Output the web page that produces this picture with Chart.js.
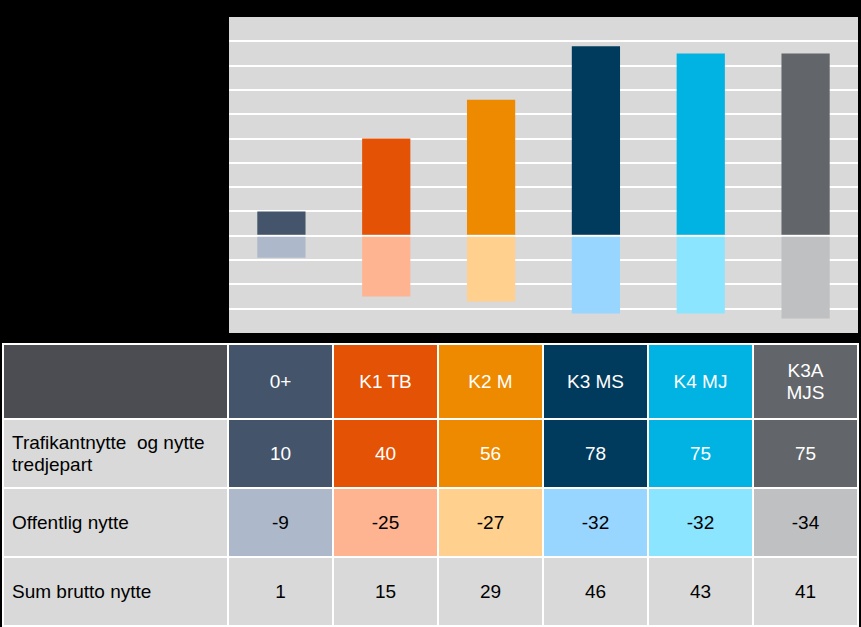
<!DOCTYPE html>
<html>
<head>
<meta charset="utf-8">
<script src="https://cdn.jsdelivr.net/npm/chart.js@4/dist/chart.umd.min.js"></script>
<style>
  html, body { margin: 0; padding: 0; background: #000; }
  body { width: 861px; height: 627px; position: relative; overflow: hidden; font-family: "Liberation Sans", Arial, sans-serif; }
  #plot { position: absolute; left: 229px; top: 17px; width: 629px; height: 316px; background: #d9d9d9; }
  #tbl { position: absolute; left: 2px; top: 343px; border-collapse: collapse; table-layout: fixed; }
  #tbl td { border: 2px solid #fff; padding: 0; text-align: center; font-size: 19px; line-height: 22px; white-space: pre; }
  #tbl tr.dark td { color: #fff; }
  #tbl tr.plain td { color: #000; }
  #tbl tr td.lbl { text-align: left; padding-left: 8px; background: #d9d9d9; color: #000; }
</style>
</head>
<body>
<div id="plot"><canvas id="chartArea"></canvas></div>
<table id="tbl"></table>
<script>
    // data
    const categories = ["0+", "K1 TB", "K2 M", "K3 MS", "K4 MJ", "K3A\nMJS"];
    const rowLabels = ["Trafikantnytte  og nytte\ntredjepart", "Offentlig nytte", "Sum brutto nytte"];
    const trafikantNytte = [10, 40, 56, 78, 75, 75];
    const offentligNytte = [-9, -25, -27, -32, -32, -34];
    const sumBruttoNytte = [1, 15, 29, 46, 43, 41];

    const darkColors = ["#44546a", "#e35205", "#ee8a00", "#003a5c", "#00b3e2", "#626569"];
    const lightColors = ["#adb9ca", "#ffb491", "#ffd08e", "#98d6ff", "#8ce5ff", "#bfc0c2"];

    // chart
    const canvas = document.getElementById("chartArea");
    new Chart(canvas, {
        type: "bar",
        data: {
            labels: categories,
            datasets: [
                { label: rowLabels[0], data: trafikantNytte, backgroundColor: darkColors },
                { label: rowLabels[1], data: offentligNytte, backgroundColor: lightColors }
            ]
        },
        options: {
            responsive: true,
            maintainAspectRatio: false,
            animation: false,
            layout: { padding: 0 },
            datasets: { bar: { barPercentage: 0.46, categoryPercentage: 1 } },
            plugins: { legend: { display: false }, tooltip: { enabled: false } },
            scales: {
                x: { stacked: true, display: false },
                y: {
                    stacked: true,
                    min: -40,
                    max: 90,
                    ticks: { display: false, stepSize: 10 },
                    border: { display: false },
                    grid: {
                        drawTicks: false,
                        lineWidth: 2,
                        color: ctx => (ctx.tick && (ctx.tick.value === -40 || ctx.tick.value === 90)) ? "rgba(0,0,0,0)" : "#ffffff"
                    },
                    afterFit: s => { s.width = 0; }
                }
            }
        }
    });

    // table
    const tbl = document.getElementById("tbl");
    let html = '<colgroup><col style="width:225px">' + categories.map(() => '<col style="width:105px">').join("") + '</colgroup>';
    html += '<tr class="dark" style="height:75px"><td style="background:#4b4d52"></td>' +
        categories.map((c, i) => '<td style="background:' + darkColors[i] + '">' + c + '</td>').join("") + '</tr>';
    html += '<tr class="dark" style="height:69px"><td class="lbl">' + rowLabels[0] + '</td>' +
        trafikantNytte.map((v, i) => '<td style="background:' + darkColors[i] + '">' + v + '</td>').join("") + '</tr>';
    html += '<tr class="plain" style="height:69px"><td class="lbl">' + rowLabels[1] + '</td>' +
        offentligNytte.map((v, i) => '<td style="background:' + lightColors[i] + '">' + v + '</td>').join("") + '</tr>';
    html += '<tr class="plain" style="height:69px"><td class="lbl">' + rowLabels[2] + '</td>' +
        sumBruttoNytte.map(v => '<td style="background:#d9d9d9">' + v + '</td>').join("") + '</tr>';
    tbl.innerHTML = html;
</script>
</body>
</html>
